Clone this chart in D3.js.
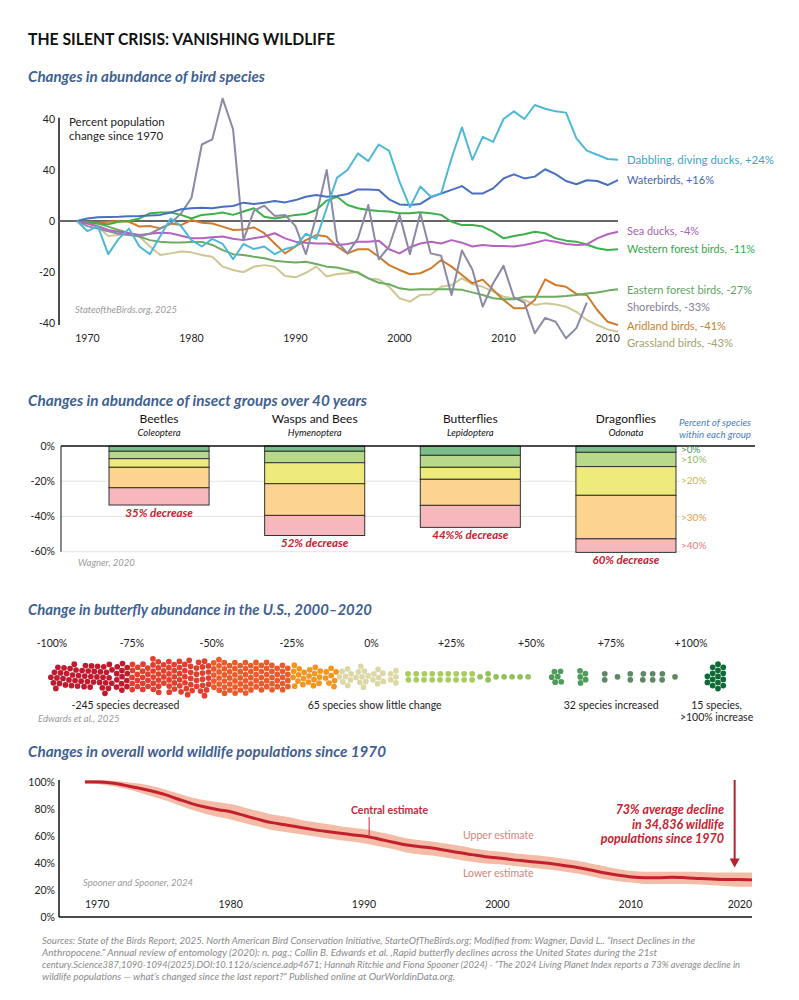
<!DOCTYPE html>
<html><head><meta charset="utf-8">
<script src="https://cdn.jsdelivr.net/npm/d3@7"></script>
<style>
body{margin:0;background:#fff;}
svg{display:block;font-family:Lato,'Open Sans',sans-serif;}
</style></head><body>
<svg id="c" width="799" height="1000"></svg>
<script>
// ---------------- DATA ----------------
// Birds: percent population change since 1970 (annual points)
const birdStart = 1969, birdEnd = 2021;
const ducks = [0,-4,-2,-13,-7,-3,-10,-13,-6,1,-2,-7.5,-10,-7,-9,-15,-9,-11,-10,-13,-11,-10,-5,-7,5,
  17,20,26.5,23.5,30,27.5,15.4,5.4,13.5,9.5,10.8,24.6,36.7,24,33,31,40,43,40,45.5,44,43,42.5,32.4,27.6,26,24.3,24];
const waterbirds = [0,1,1.5,1.6,1.7,1.9,2,2.2,2.4,3.3,4.6,5,5.2,5,5.6,5.9,7.2,6.7,7.2,7.8,7.3,8.2,9.5,10.2,9.5,
  9.8,10.6,12.4,12.4,12.2,8.5,6.5,6.3,6.7,9.3,10.8,12.2,13.7,10.8,10.8,12.8,16.7,18.3,16.7,17.4,20.3,18.4,15.7,14.4,16,15.7,14.1,16];
const seaDucks = [0,-1,-2,-3.5,-4.2,-4.8,-5.5,-5,-4.6,-4.8,-5.8,-6.8,-6.8,-6.4,-6.1,-7,-7.5,-6.8,-6.1,-4.8,-6.8,-8.1,-8.5,-8.8,-8.8,
  -9.4,-9,-8.1,-8.1,-7.7,-11.1,-12.7,-10.3,-8.8,-8.1,-8.8,-7.5,-8.5,-10,-9.4,-9.8,-9.8,-10,-9.4,-8.5,-7.5,-8.1,-9,-9.4,-9.2,-6.8,-5.2,-4.2];
const westernForest = [0,-0.5,-1,-1.3,-0.3,0,1,3,3.3,3.3,2.4,1,2.4,2.7,3.3,2.4,3.7,5,1.7,1,1.7,2.4,2.7,4.3,8,
  9.5,6.3,5,4.3,3.9,3.7,3,3,3.4,3,2.4,-0.3,-1.6,-1.6,-2.2,-4.2,-6.8,-5.9,-5.2,-4.2,-4.8,-6.8,-7.7,-8.1,-9.2,-10.7,-11.4,-11.1];
const easternForest = [0,-0.5,-1,-2.2,-3.5,-4.8,-6.1,-7.5,-8.1,-8.4,-8.4,-8.2,-8.2,-9.4,-11.4,-13,-13.3,-14,-14.6,-15.6,-16,-16.3,-16,-16.9,-17.9,
  -18.2,-19.2,-20.3,-22.5,-24.2,-24.8,-26.4,-27,-26.8,-26.8,-26.8,-26.8,-27,-28,-29,-30.3,-30.7,-30.7,-29.7,-29.7,-29.7,-29.7,-29.4,-29,-28.4,-28,-27.3,-26.8];
const shorebirds = [0,-2,-3,-4,-5,-5.5,-6,-5,-3,-1,3,9,30,32,48,36,-7.5,4,6,2,2.4,-2,-13,2,20,
  -8,-12.7,-6.8,6.3,-15,-10,2.4,-13,3,-12.7,-13.6,-29,-11.6,-19,-33.6,-24.4,-17.6,-30,-32,-44,-38,-39.5,-46,-42,-32,null,null,null];
const aridland = [0,-0.5,-0.7,-0.3,0,-0.3,-2.2,-2,-2.9,-1,-1.6,0.4,-0.7,-1,-2.2,-3.5,-3.3,-2.5,-4.8,-8.8,-12.7,-10,-7.5,-5.5,-6.1,
  -10,-12.7,-11.1,-11.1,-14,-17.3,-19.2,-20.9,-20.5,-18.6,-15.3,-17.9,-21.2,-24.4,-23,-27,-31,-34.2,-34.2,-31,-22.9,-25.1,-25.8,-28.6,-29,-34.9,-39.5,-40.8];
const grassland = [0,-1,-2.2,-5.9,-5.5,-5.1,-6.1,-10,-13.3,-12.7,-12,-12.3,-13.3,-14,-17.9,-19.2,-20.1,-17.9,-17.3,-17.9,-21.6,-22.1,-20.3,-17.9,-21.8,
  -20.8,-20.5,-19.9,-22.5,-22.9,-25.8,-30.3,-31.6,-29,-28.8,-25.8,-25.1,-22.5,-24.8,-25.8,-27.7,-29.7,-30.3,-31,-32.9,-32.3,-32.7,-33.6,-35.6,-38.8,-40.8,-42.5,-43.4];
const birdNames = ["Dabbling, diving ducks, +24%","Waterbirds, +16%","Sea ducks, -4%","Western forest birds, -11%",
  "Eastern forest birds, -27%","Shorebirds, -33%","Aridland birds, -41%","Grassland birds, -43%"];
const birdLabelValues = [24,16,-4,-11,-27,-33,-41,-43];
const birdTickValues = [40,20,0,-20,-40];
const birdTickLabels = ["40","40","0","-20","-40"];
const birdYearTicks = [1970,1980,1990,2000,2010,2020];
const birdYearLabels = ["1970","1980","1990","2000","2010","2010"];

// Insects
const insectGroups = ["Beetles","Wasps and Bees","Butterflies","Dragonflies"];
const insectLatin = ["Coleoptera","Hymenoptera","Lepidoptera","Odonata"];
const insectBounds = [
  [-3.0,-7.2,-12.1,-23.7,-33.5],
  [-3.0,-9.5,-21.4,-39.4,-50.8],
  [-5.3,-12.1,-18.9,-33.7,-46.2],
  [-3.6,-11.7,-28.0,-52.7,-60.4]];
const insectDecrease = ["35% decrease","52% decrease","44%% decrease","60% decrease"];
const insectClasses = [">0%",">10%",">20%",">30%",">40%"];
const insectTicks = [0,-20,-40,-60];

// Butterflies (value bin in %, number of species dots)
const swarmValues = [-98,-93,-88,-83,-78,-73,-68,-63,-58,-53,-48,-43,-38,-33,-28,-23,-18,-13,-8,-3,2,7,
  11.5,14,16.5,19,21.5,24,26.5,29,31.5,34,36.5,39,41.5,44,46.5,49,58,66,73,77,81,85,88,91,95,108];
const swarmCounts = [9,13,13,13,13,14,16,16,17,17,17,16,16,15,13,10,10,8,8,9,7,5,
  2,2,2,2,2,2,2,2,2,1,2,1,1,1,1,1,6,5,2,1,2,2,2,2,1,15];
const swarmTicks = [-100,-75,-50,-25,0,25,50,75,100];
const swarmTickLabels = ["-100%","-75%","-50%","-25%","0%","+25%","+50%","+75%","+100%"];
const swarmNotes = ["-245 species decreased","65 species show little change","32 species increased","15 species,"];
const swarmNoteAt = [-77,1,75,108];

// World wildlife (Living Planet Index, % of 1970)
const lpiStart = 1970;
const lpiCentral = [100,100,99.3,97.5,95.6,93.3,90.6,87.2,84,81.5,79.5,77.8,75,72.3,69.9,68.4,66.7,64.9,63.5,62.2,
  61,59.8,57.8,55.6,53.5,52.3,51.1,49.4,47.7,46.2,44.7,43.7,42.5,41.5,40.5,39.5,38,36.5,34.6,32.6,
  30.9,29.6,29.1,29.1,29.4,29.1,28.6,28.1,27.7,27.7,27.5];
const lpiUpper = [101.5,101.5,101,100,98.8,97,94.5,91.5,88.5,86.5,85,83.5,81,78.5,76,74.5,72.5,70.5,69,67.5,
  66.2,65,63,61,58.5,57,56,54.5,53,51,49.5,48.5,47.5,46.5,45.5,44.5,43,41.5,39.5,37.5,
  35.5,34,33.5,33.5,33.5,33.5,33.3,33,33,33,33];
const lpiLower = [99,98.5,97,95,92.5,89.5,86.5,83,79.5,76.5,74,72,69.5,67,64.5,63,61.5,60,58.5,57,
  56,54.5,52.5,50.5,48,46.5,45.5,44,42.5,41,39.7,39,38,37,36,35,33.5,32,30,28,
  26.5,25.5,24.5,24.5,24.5,24.5,24,23.5,23,22.5,22.5];
const lpiTicks = [0,20,40,60,80,100];
const lpiYearTicks = [1970,1980,1990,2000,2010,2020];
const lpiNote = ["73% average decline","in 34,836 wildlife","populations since 1970"];
const arrowYear = 2018.7;

const sources = [
 "Sources: State of the Birds Report, 2025. North American Bird Conservation Initiative, StarteOfTheBirds.org; Modified from: Wagner, David L.. \u201cInsect Declines in the",
 "Anthropocene.\u201d Annual review of entomology (2020): n. pag.; Collin B. Edwards et al. ,Rapid butterfly declines across the United States during the 21st",
 "century.Science387,1090-1094(2025).DOI:10.1126/science.adp4671; Hannah Ritchie and Fiona Spooner (2024) - \u201cThe 2024 Living Planet Index reports a 73% average decline in",
 "wildlife populations \u2014 what\u2019s changed since the last report?\u201d Published online at OurWorldinData.org."];

// ---------------- DRAW ----------------
const svg = d3.select('#c');
svg.append('rect').attr('width',799).attr('height',1000).attr('fill','#fff');
const TITLE = '#3f5f92', GREY = '#9a9a9a', INK = '#222';

svg.append('text').attr('x',28).attr('y',45).attr('font-size',17).attr('font-weight',700).attr('fill','#111')
  .attr('textLength',307).attr('lengthAdjust','spacingAndGlyphs').text('THE SILENT CRISIS: VANISHING WILDLIFE');

function secTitle(t,y,w){
  svg.append('text').attr('x',28).attr('y',y).attr('fill',TITLE).attr('font-size',14.5)
    .attr('font-style','italic').attr('font-weight',700)
    .attr('textLength',w).attr('lengthAdjust','spacingAndGlyphs').text(t);
}
function note(t,x,y,w){
  const n = svg.append('text').attr('x',x).attr('y',y).attr('fill',GREY).attr('font-size',9.5)
    .attr('font-style','italic').text(t);
  if(w) n.attr('textLength',w).attr('lengthAdjust','spacingAndGlyphs');
}

// ===== Birds =====
secTitle('Changes in abundance of bird species',82,237);
const bx = d3.scaleLinear().domain([birdStart,birdEnd]).range([77,618]);
const by = d3.scaleLinear().domain([-40,40]).range([323,119]);
const gB = svg.append('g');
gB.append('line').attr('x1',59).attr('x2',59).attr('y1',by(40.5)).attr('y2',by(-40.8)).attr('stroke','#111').attr('stroke-width',1.5);
gB.selectAll('.byt').data(birdTickValues).join('text').attr('x',55).attr('y',d=>by(d)).attr('dy','0.35em')
  .attr('text-anchor','end').attr('font-size',10.5).attr('fill',INK).text((d,i)=>birdTickLabels[i]);
gB.selectAll('.bxt').data(birdYearTicks).join('text').attr('x',d=>bx(d)).attr('y',342)
  .attr('text-anchor','middle').attr('font-size',10.5).attr('fill',INK).text((d,i)=>birdYearLabels[i]);
gB.append('line').attr('x1',59).attr('x2',bx(birdEnd)).attr('y1',by(0)).attr('y2',by(0)).attr('stroke','#666').attr('stroke-width',2);
gB.append('text').attr('x',69).attr('y',126).attr('font-size',11.5).attr('fill',INK).text('Percent population');
gB.append('text').attr('x',69).attr('y',140).attr('font-size',11.5).attr('fill',INK).text('change since 1970');
note('StateoftheBirds.org, 2025',75,313,102);

const birdSeries = [ducks,waterbirds,seaDucks,westernForest,easternForest,shorebirds,aridland,grassland];
const birdColors = ['#4db8d8','#4a6fc0','#b463bf','#3daf4b','#6eab62','#8a89a6','#d07a2b','#cdc794'];
const birdText = ['#3aa5cc','#4465b0','#a562b0','#35a848','#62a468','#7f7e98','#c88232','#a5a26c'];
const drawOrder = [7,6,4,3,2,5,1,0];
const bline = d3.line().defined(d=>d[1]!=null).x(d=>bx(d[0])).y(d=>by(d[1]));
drawOrder.forEach(i=>{
  const pts = birdSeries[i].map((v,k)=>[birdStart+k,v]);
  gB.append('path').attr('d',bline(pts)).attr('fill','none').attr('stroke',birdColors[i])
    .attr('stroke-width',2).attr('stroke-linejoin','round');
});
let prevY = -Infinity;
const labelY = birdLabelValues.map(v=>{ let yy = by(v); if(yy < prevY+17) yy = prevY+17; prevY = yy; return yy; });
const birdLabelW = [147,87,72,128,125,83,99,106];
birdNames.forEach((t,i)=>{
  gB.append('text').attr('x',627).attr('y',labelY[i]).attr('dy','0.35em').attr('font-size',12)
    .attr('fill',birdText[i]).attr('textLength',birdLabelW[i]).attr('lengthAdjust','spacingAndGlyphs').text(t);
});

// ===== Insects =====
secTitle('Changes in abundance of insect groups over 40 years',406,339);
const ix = d3.scaleBand().domain(insectGroups).range([81,704]).paddingInner(0.357).paddingOuter(0.18);
const iy = d3.scaleLinear().domain([0,-60]).range([446,551.7]);
const gI = svg.append('g');
gI.selectAll('.grid').data(insectTicks.slice(1)).join('line').attr('x1',61).attr('x2',680)
  .attr('y1',d=>iy(d)).attr('y2',d=>iy(d)).attr('stroke','#e4e4e4').attr('stroke-width',1);
gI.selectAll('.it').data(insectTicks).join('text').attr('x',55).attr('y',d=>iy(d)).attr('dy','0.35em')
  .attr('text-anchor','end').attr('font-size',10.5).attr('fill',INK).text(d=>d+'%');
const segColors = ['#7dbd8a','#b8d98c','#eeeb7c','#fdd48f','#f6b8bc'];
const classColors = ['#3f9160','#8fbb5f','#c2bb3e','#e89a48','#e57b7d'];
insectGroups.forEach((g,gi)=>{
  const b = insectBounds[gi];
  const x0 = ix(g), w = ix.bandwidth();
  b.forEach((bot,si)=>{
    const top = si===0 ? 0 : b[si-1];
    gI.append('rect').attr('x',x0).attr('y',iy(top)).attr('width',w).attr('height',iy(bot)-iy(top))
      .attr('fill',segColors[si]).attr('stroke','#333').attr('stroke-width',1);
  });
  gI.append('text').attr('x',x0+w/2).attr('y',423).attr('text-anchor','middle').attr('font-size',12).attr('fill','#111').text(g);
  gI.append('text').attr('x',x0+w/2).attr('y',436).attr('text-anchor','middle').attr('font-size',9.5)
    .attr('font-style','italic').attr('fill','#111').text(insectLatin[gi]);
  gI.append('text').attr('x',x0+w/2).attr('y',iy(b[4])+12).attr('text-anchor','middle').attr('font-size',11.5)
    .attr('font-weight',700).attr('font-style','italic').attr('fill','#c8202f').text(insectDecrease[gi]);
});
gI.append('line').attr('x1',61).attr('x2',61).attr('y1',iy(0)).attr('y2',iy(-60)).attr('stroke','#111').attr('stroke-width',1);
gI.append('line').attr('x1',61).attr('x2',755).attr('y1',iy(0)).attr('y2',iy(0)).attr('stroke','#111').attr('stroke-width',1.5);
const lastB = insectBounds[3];
insectClasses.forEach((t,si)=>{
  const top = si===0 ? 0 : lastB[si-1];
  gI.append('text').attr('x',681).attr('y',iy((top+lastB[si])/2)).attr('dy','0.35em').attr('font-size',10)
    .attr('fill',classColors[si]).text(t);
});
gI.append('text').attr('x',679).attr('y',426).attr('font-size',9.5).attr('font-style','italic').attr('fill','#4a7cc0')
  .attr('textLength',72).attr('lengthAdjust','spacingAndGlyphs').text('Percent of species');
gI.append('text').attr('x',679).attr('y',438).attr('font-size',9.5).attr('font-style','italic').attr('fill','#4a7cc0')
  .attr('textLength',72).attr('lengthAdjust','spacingAndGlyphs').text('within each group');
note('Wagner, 2020',78,566);

// ===== Butterflies =====
secTitle('Change in butterfly abundance in the U.S., 2000\u20132020',615,344);
const sx = d3.scaleLinear().domain([-100,100]).range([52,691]);
const swarmY = 677;
const gS = svg.append('g');
gS.selectAll('.st').data(swarmTicks).join('text').attr('x',d=>sx(d)).attr('y',647).attr('text-anchor','middle')
  .attr('font-size',10.5).attr('fill',INK).text((d,i)=>swarmTickLabels[i]);
const dotColor = d3.scaleThreshold().domain([-76,-50,-27,-12,11,33,52,70,100])
  .range(['#c1192e','#e23f2e','#ea5b2b','#f3951f','#dcd8a6','#a9cd5d','#93c05a','#4f9c5a','#5e8766','#0e6b37']);
const nodes = [];
swarmValues.forEach((v,i)=>{ for(let k=0;k<swarmCounts[i];k++) nodes.push({value:v}); });
const sim = d3.forceSimulation(nodes)
  .force('x',d3.forceX(d=>sx(d.value)).strength(0.16))
  .force('y',d3.forceY(swarmY).strength(0.1))
  .force('c',d3.forceCollide(3.05).iterations(3))
  .stop();
for(let i=0;i<500;i++) sim.tick();
gS.selectAll('circle').data(nodes).join('circle').attr('cx',d=>d.x).attr('cy',d=>d.y).attr('r',2.85)
  .attr('fill',d=>dotColor(d.value));
swarmNotes.forEach((t,i)=>{
  gS.append('text').attr('x',sx(swarmNoteAt[i])).attr('y',709).attr('text-anchor','middle').attr('font-size',10.5).attr('fill',INK).text(t);
});
gS.append('text').attr('x',sx(108)).attr('y',721).attr('text-anchor','middle').attr('font-size',10.5).attr('fill',INK).text('>100% increase');
note('Edwards et al., 2025',38,722);

// ===== World wildlife =====
secTitle('Changes in overall world wildlife populations since 1970',757,358);
const wx = d3.scaleLinear().domain([1970,2020]).range([85,752]);
const wy = d3.scaleLinear().domain([0,100]).range([917,782]);
const gW = svg.append('g');
const area = d3.area().x((d,i)=>wx(lpiStart+i)).y0((d,i)=>wy(lpiLower[i])).y1((d,i)=>wy(lpiUpper[i])).curve(d3.curveMonotoneX);
gW.append('path').attr('d',area(lpiCentral)).attr('fill','#f4bba6');
gW.append('path').attr('d',d3.line().x((d,i)=>wx(lpiStart+i)).y(d=>wy(d)).curve(d3.curveMonotoneX)(lpiCentral))
  .attr('fill','none').attr('stroke','#c3202f').attr('stroke-width',3);
gW.append('line').attr('x1',59).attr('x2',59).attr('y1',wy(101.5)).attr('y2',wy(0)).attr('stroke','#111').attr('stroke-width',1.5);
gW.append('line').attr('x1',59).attr('x2',wx(2020)).attr('y1',wy(0)).attr('y2',wy(0)).attr('stroke','#111').attr('stroke-width',1.5);
gW.selectAll('.wt').data(lpiTicks).join('text').attr('x',55).attr('y',d=>wy(d)).attr('dy','0.35em')
  .attr('text-anchor','end').attr('font-size',10.5).attr('fill',INK).text(d=>d+'%');
gW.selectAll('.wxt').data(lpiYearTicks).join('text').attr('x',d=>wx(d)).attr('y',908)
  .attr('text-anchor',(d,i)=>i===lpiYearTicks.length-1?'end':'start').attr('font-size',10.5).attr('fill',INK).text(d=>d);
gW.append('text').attr('x',351).attr('y',814).attr('font-size',10.5).attr('font-weight',700).attr('fill','#c8283a').text('Central estimate');
gW.append('line').attr('x1',wx(1991.3)).attr('x2',wx(1991.3)).attr('y1',817).attr('y2',wy(lpiCentral[21])-1).attr('stroke','#c8283a').attr('stroke-width',1);
gW.append('text').attr('x',463).attr('y',839).attr('font-size',10.5).attr('fill','#d4857c').text('Upper estimate');
gW.append('text').attr('x',463).attr('y',877).attr('font-size',10.5).attr('fill','#d4857c').text('Lower estimate');
lpiNote.forEach((t,i)=>{
  gW.append('text').attr('x',724).attr('y',814+i*14.5).attr('text-anchor','end').attr('font-size',12.5)
    .attr('font-weight',700).attr('font-style','italic').attr('fill','#c8202f').text(t);
});
const ax = wx(arrowYear), tipY = wy(lpiUpper[49])-5;
gW.append('line').attr('x1',ax).attr('x2',ax).attr('y1',780).attr('y2',tipY-8).attr('stroke','#b8202e').attr('stroke-width',2);
gW.append('path').attr('d',`M${ax-5},${tipY-9}L${ax+5},${tipY-9}L${ax},${tipY}Z`).attr('fill','#b8202e');
note('Spooner and Spooner, 2024',83,886);

// ===== Sources =====
const srcW = [653,615,698,413];
sources.forEach((t,i)=>{
  svg.append('text').attr('x',42).attr('y',944+i*12).attr('font-size',9).attr('font-style','italic').attr('fill','#8a8a8a')
    .attr('textLength',srcW[i]).attr('lengthAdjust','spacingAndGlyphs').text(t);
});
</script></body></html>
